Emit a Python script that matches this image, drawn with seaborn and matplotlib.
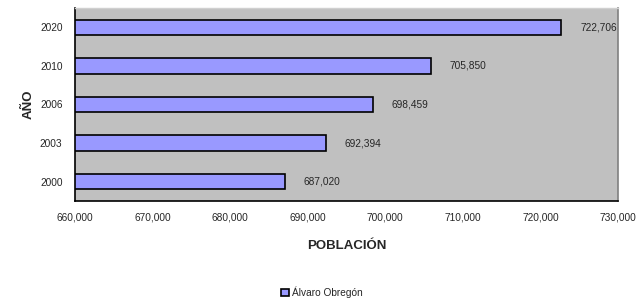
import matplotlib
matplotlib.use('Agg')
import matplotlib.pyplot as plt
import seaborn as sns
import pandas as pd
from matplotlib.patches import Patch
from matplotlib.ticker import FuncFormatter

# data
years = ['2020', '2010', '2006', '2003', '2000']
population = [722706, 705850, 698459, 692394, 687020]
series_name = 'Álvaro Obregón'

df = pd.DataFrame({'year': years, 'population': population})

sns.set_style('white')
plt.rcParams['font.family'] = ['Liberation Sans', 'DejaVu Sans']

fig = plt.figure(figsize=(6.44, 3.04), dpi=100)
ax = fig.add_axes([75 / 644, 1 - 201 / 304, 543 / 644, 193 / 304])
ax.set_facecolor('#C0C0C0')

sns.barplot(data=df, x='population', y='year', order=years, orient='h',
            color='#9999FF', edgecolor='black', linewidth=1.2, width=0.4,
            saturation=1, ax=ax)

ax.set_xlim(660000, 730000)
ax.set_xticks(range(660000, 730001, 10000))
ax.xaxis.set_major_formatter(FuncFormatter(lambda v, p: f'{int(v):,}'))
ax.set_ylim(len(years) - 0.5, -0.5)

# value labels
for i, v in enumerate(population):
    ax.text(v + 2400, i, f'{v:,}', va='center', ha='left', fontsize=7.3)

# ticks between the categories
ax.tick_params(axis='y', which='major', length=0, labelsize=7.3, pad=9)
ax.set_yticks([i - 0.5 for i in range(len(years) + 1)], minor=True)
ax.tick_params(axis='y', which='minor', length=4, width=1, direction='out', color='black')
ax.tick_params(axis='x', which='major', length=4, width=1, direction='out', labelsize=7.3, color='black', pad=4)

for s in ['left', 'bottom']:
    ax.spines[s].set_color('black')
    ax.spines[s].set_linewidth(1.2)
ax.spines['right'].set_color('#808080')
ax.spines['right'].set_linewidth(1.2)
ax.spines['top'].set_color('#D0D0D0')
ax.spines['top'].set_linewidth(1)

ax.set_xlabel('POBLACIÓN', fontsize=9.5, fontweight='bold', labelpad=13)
ax.set_ylabel('AÑO', fontsize=9.5, fontweight='bold', labelpad=4)

handle = Patch(facecolor='#9999FF', edgecolor='black', linewidth=1.2)
fig.legend([handle], [series_name], loc='center', bbox_to_anchor=(0.5, 1 - 292 / 304),
           frameon=False, fontsize=7.3, handlelength=0.75, handleheight=0.75,
           handletextpad=0.3)

fig.savefig('out.png', dpi=100)
